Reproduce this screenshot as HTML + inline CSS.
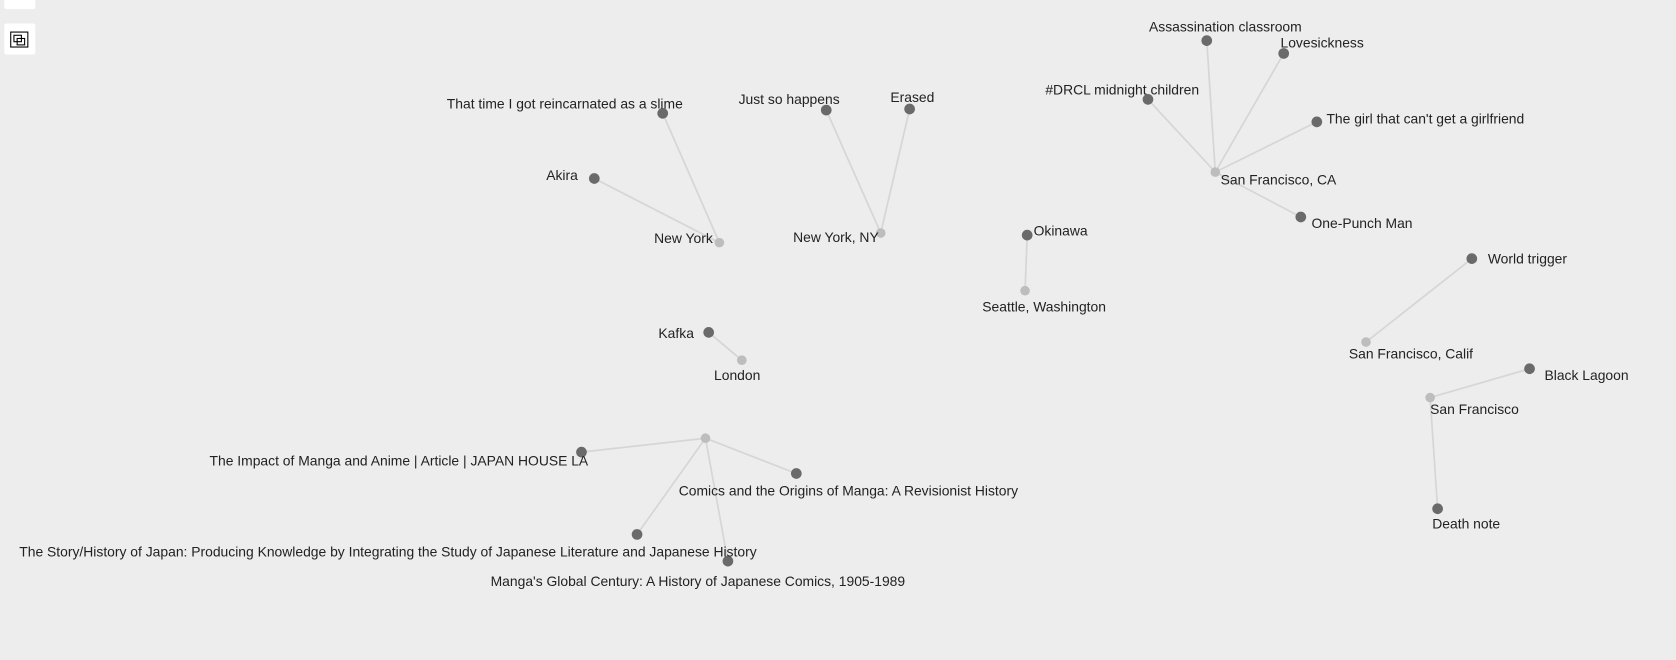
<!DOCTYPE html>
<html><head><meta charset="utf-8"><style>
html,body{margin:0;padding:0;background:#ededed;width:1676px;height:660px;overflow:hidden}
svg{display:block}
text{font-family:"Liberation Sans",sans-serif;font-size:13px;fill:#222}
</style></head><body>
<svg id="chart" width="1676" height="660" viewBox="0 0 1568 617.5">
<rect x="4" y="-4" width="29" height="12.5" rx="2" fill="#fff"/>
<g>
<rect x="4" y="22" width="29" height="29" rx="2" fill="#fff"/>
<rect x="10" y="30" width="16" height="14" fill="none" stroke="#000" stroke-width="1"/>
<rect x="13" y="33" width="7" height="6" fill="#fff" stroke="#000" stroke-width="1"/>
<rect x="16" y="36" width="7" height="6" fill="none" stroke="#000" stroke-width="1"/>
</g>
<g id="links"></g><g id="nodes"></g><g id="labels"></g>
</svg>
<script>
const hubNames=["New York","New York, NY","San Francisco, CA","Seattle, Washington","San Francisco, Calif","San Francisco","London",""];
const hubX=[673,824,1137,959,1278,1338,694,660];
const hubY=[227,218,161,272,320,372,337,410];
const hubLabelX=[612,742,1142,919,1262,1338,668,0];
const hubLabelY=[224,223,169,288,332,384,352,0];
const leafNames=["That time I got reincarnated as a slime","Akira","Just so happens","Erased","Assassination classroom","Lovesickness","#DRCL midnight children","The girl that can't get a girlfriend","One-Punch Man","Okinawa","World trigger","Black Lagoon","Death note","Kafka","The Impact of Manga and Anime | Article | JAPAN HOUSE LA","Comics and the Origins of Manga: A Revisionist History","The Story/History of Japan: Producing Knowledge by Integrating the Study of Japanese Literature and Japanese History","Manga's Global Century: A History of Japanese Comics, 1905-1989"];
const leafHub=[0,0,1,1,2,2,2,2,2,3,4,5,5,6,7,7,7,7];
const leafX=[620,556,773,851,1129,1201,1074,1232,1217,961,1377,1431,1345,663,544,745,596,681];
const leafY=[106,167,103,102,38,50,93,114,203,220,242,345,476,311,423,443,500,525];
const leafLabelX=[418,511,691,833,1075,1198,978,1241,1227,967,1392,1445,1340,616,196,635,18,459];
const leafLabelY=[98,165,94,92,26,41,85,112,210,217,243,352,491,313,432,460,517,545];
const NS="http://www.w3.org/2000/svg";
const L=document.getElementById('links'),N=document.getElementById('nodes'),T=document.getElementById('labels');
function mk(tag,attrs,parent){const e=document.createElementNS(NS,tag);for(const k in attrs)e.setAttribute(k,attrs[k]);parent.appendChild(e);return e;}
leafNames.forEach((n,i)=>{const h=leafHub[i];
const ln=mk('line',{x1:hubX[h],y1:hubY[h],x2:leafX[i],y2:leafY[i],stroke:'#d6d6d6','stroke-width':1.6},L);


});
hubNames.forEach((n,i)=>{
const c=mk('circle',{cx:hubX[i],cy:hubY[i],r:4.5,fill:'#bdbdbd'},N);


if(n){const t=mk('text',{x:hubLabelX[i],y:hubLabelY[i],'dominant-baseline':'middle'},T);t.textContent=n;

}
});
leafNames.forEach((n,i)=>{
const c=mk('circle',{cx:leafX[i],cy:leafY[i],r:5,fill:'#6a6a6a'},N);


const t=mk('text',{x:leafLabelX[i],y:leafLabelY[i],'dominant-baseline':'middle'},T);t.textContent=n;


});
</script>
</body></html>
